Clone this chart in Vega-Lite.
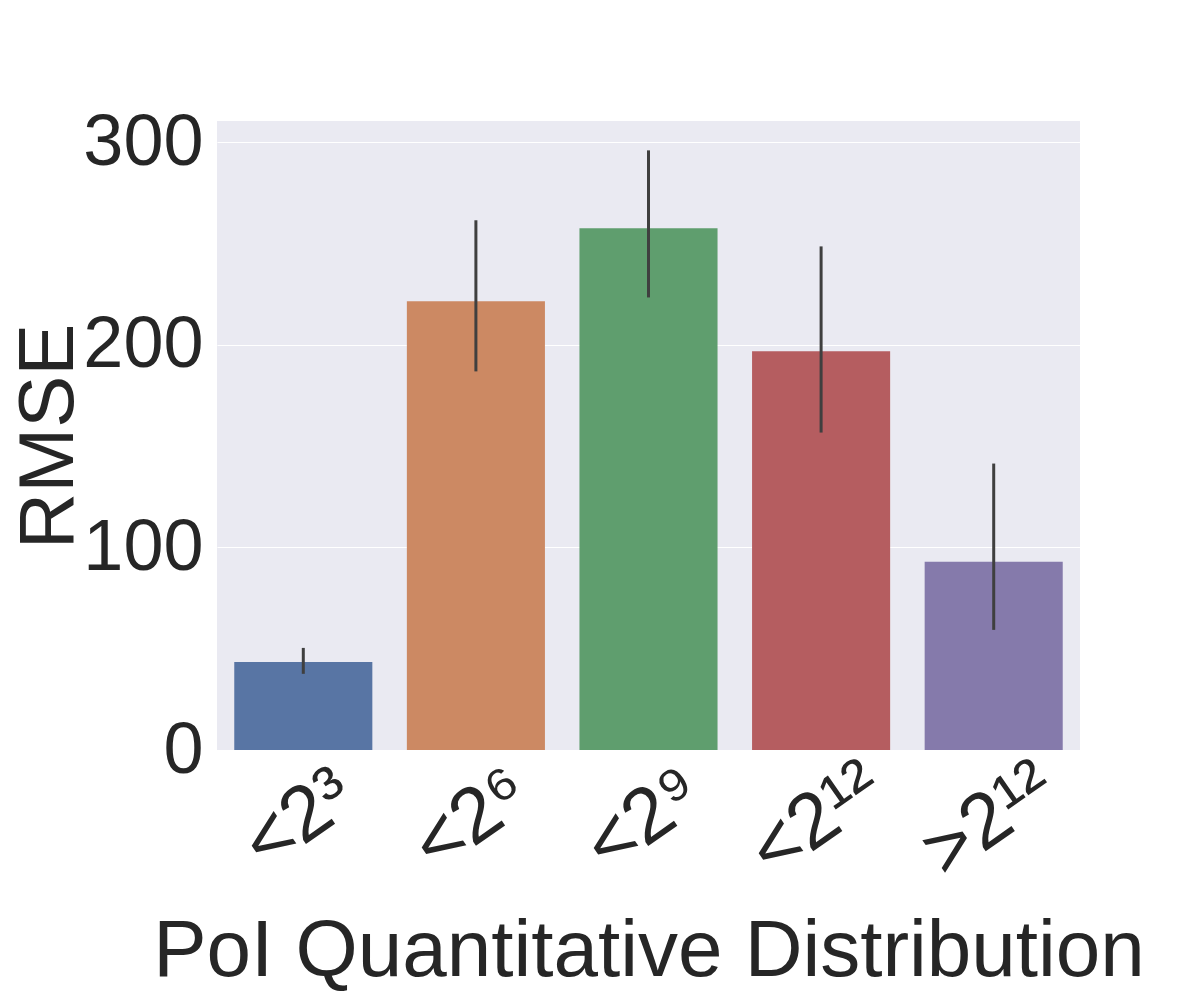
{
  "$schema": "https://vega.github.io/schema/vega-lite/v6.json",
  "autosize": "none",
  "padding": {"left": 217, "top": 121, "right": 120, "bottom": 250},
  "width": 863,
  "height": 629,
  "background": "white",
  "data": {
    "values": [
      {"dist": "<2³", "rmse": 43.5, "lo": 37.6, "hi": 50.4},
      {"dist": "<2⁶", "rmse": 221.5, "lo": 186.9, "hi": 261.5},
      {"dist": "<2⁹", "rmse": 257.5, "lo": 223.4, "hi": 296.0},
      {"dist": "<2¹²", "rmse": 196.8, "lo": 156.7, "hi": 248.6},
      {"dist": ">2¹²", "rmse": 92.9, "lo": 59.3, "hi": 141.4}
    ]
  },
  "encoding": {
    "x": {
      "field": "dist",
      "type": "nominal",
      "sort": null,
      "scale": {"paddingInner": 0.2, "paddingOuter": 0.1},
      "axis": {
        "title": "PoI Quantitative Distribution",
        "labelAngle": -35,
        "labelAlign": "center",
        "labelBaseline": "middle",
        "labelFontSize": 78,
        "labelPadding": 70,
        "labelOffset": -4,
        "titleFontSize": 80,
        "titleY": 225,
        "titleBaseline": "alphabetic",
        "titleFontWeight": "normal"
      }
    }
  },
  "layer": [
    {
      "mark": {"type": "bar"},
      "encoding": {
        "y": {
          "field": "rmse",
          "type": "quantitative",
          "scale": {"domain": [0, 310.5], "nice": false},
          "axis": {
            "title": "RMSE",
            "values": [0, 100, 200, 300],
            "labelFontSize": 72,
            "labelPadding": 14,
            "titleFontSize": 78,
            "titleX": -168,
            "titleY": 315,
            "titleAlign": "center",
            "titleBaseline": "middle",
            "titleFontWeight": "normal"
          }
        },
        "color": {
          "field": "dist",
          "type": "nominal",
          "sort": null,
          "scale": {"range": ["#5875a4", "#cc8963", "#5f9e6e", "#b55d60", "#857aab"]},
          "legend": null
        }
      }
    },
    {
      "mark": {"type": "rule", "color": "#3f3f3f", "strokeWidth": 3},
      "encoding": {
        "y": {"field": "lo", "type": "quantitative"},
        "y2": {"field": "hi"}
      }
    }
  ],
  "config": {
    "font": "Liberation Sans",
    "view": {"fill": "#EAEAF2", "stroke": null},
    "axis": {
      "domain": false,
      "ticks": false,
      "grid": true,
      "gridColor": "white",
      "gridWidth": 1.2,
      "labelColor": "#262626",
      "titleColor": "#262626",
      "labelFont": "Liberation Sans",
      "titleFont": "Liberation Sans"
    },
    "axisX": {"grid": false},
    "bar": {"stroke": null}
  }
}
